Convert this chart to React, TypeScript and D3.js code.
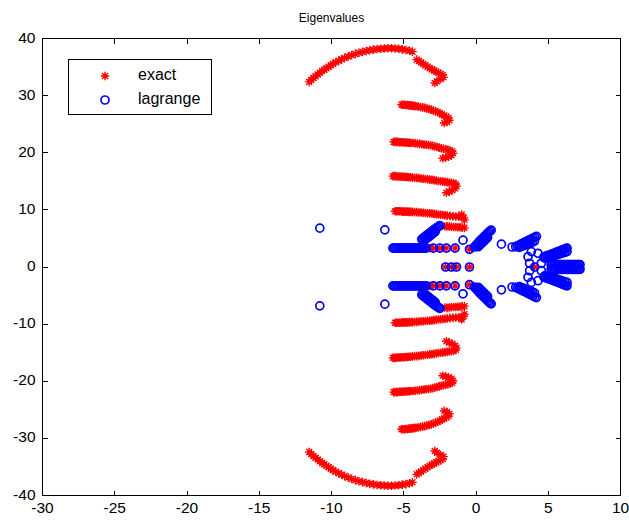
import React from 'react';
import * as d3 from 'd3';

type Pt = [number, number];

const xTicks = [-30, -25, -20, -15, -10, -5, 0, 5, 10];
const yTicks = [-40, -30, -20, -10, 0, 10, 20, 30, 40];
const legendLabels = ['exact', 'lagrange'];

// ---- exact eigenvalues (upper half-plane; conjugates are added when drawing)
const exactTopArc: Pt[] = [
  [-11.55, 32.4], [-11.4, 32.75], [-11.25, 33.1], [-11.1, 33.4], [-10.95, 33.7], [-10.8, 34.0],
  [-10.65, 34.3], [-10.5, 34.55], [-10.35, 34.8], [-10.2, 35.05], [-10.05, 35.3], [-9.9, 35.55],
  [-9.7, 35.85], [-9.5, 36.1], [-9.3, 36.35], [-9.1, 36.6], [-8.85, 36.85], [-8.6, 37.1],
  [-8.35, 37.3], [-8.1, 37.5], [-7.85, 37.65], [-7.6, 37.8], [-7.35, 37.95], [-7.1, 38.05],
  [-6.85, 38.15], [-6.6, 38.2], [-6.35, 38.25], [-6.1, 38.3], [-5.85, 38.3], [-5.6, 38.25],
  [-5.35, 38.2], [-5.1, 38.1], [-4.85, 38.0], [-4.6, 37.85], [-4.4, 37.7],
];
const exactTopHook: Pt[] = [
  [-4.1, 36.3], [-3.95, 36.05], [-3.8, 35.8], [-3.65, 35.55], [-3.5, 35.3], [-3.35, 35.05],
  [-3.2, 34.8], [-3.05, 34.6], [-2.9, 34.4], [-2.75, 34.2], [-2.6, 34.0], [-2.45, 33.8],
  [-2.3, 33.6], [-2.25, 33.2], [-2.45, 32.9], [-2.7, 32.5], [-2.85, 32.2],
];
const exactBranch28: Pt[] = [
  [-5.15, 28.4], [-5.05, 28.4], [-4.95, 28.4], [-4.85, 28.35], [-4.75, 28.35], [-4.65, 28.3],
  [-4.55, 28.3], [-4.45, 28.25], [-4.35, 28.2], [-4.25, 28.2], [-4.15, 28.15], [-4.0, 28.1],
  [-3.85, 28.0], [-3.7, 27.95], [-3.55, 27.85], [-3.4, 27.75], [-3.25, 27.65], [-3.1, 27.55],
  [-2.95, 27.4], [-2.8, 27.25], [-2.65, 27.1], [-2.5, 26.9], [-2.35, 26.7], [-2.2, 26.5],
  [-2.05, 26.3], [-1.9, 26.1], [-1.85, 25.7], [-2.0, 25.4], [-2.2, 25.2],
];
const exactBranch22: Pt[] = [
  [-5.7, 21.9], [-5.6, 21.9], [-5.5, 21.9], [-5.4, 21.9], [-5.3, 21.85], [-5.2, 21.85],
  [-5.1, 21.85], [-5.0, 21.8], [-4.9, 21.8], [-4.8, 21.8], [-4.7, 21.75], [-4.6, 21.75],
  [-4.5, 21.7], [-4.35, 21.7], [-4.2, 21.65], [-4.05, 21.6], [-3.9, 21.55], [-3.75, 21.5],
  [-3.6, 21.45], [-3.45, 21.4], [-3.3, 21.35], [-3.15, 21.3], [-3.0, 21.2], [-2.85, 21.1],
  [-2.7, 21.0], [-2.55, 20.9], [-2.4, 20.8], [-2.25, 20.7], [-2.1, 20.6], [-1.95, 20.5],
  [-1.8, 20.4], [-1.65, 20.25], [-1.6, 19.9], [-1.7, 19.55], [-1.9, 19.3], [-2.1, 19.15],
  [-2.3, 19.05],
];
const exactBranch16: Pt[] = [
  [-5.75, 15.9], [-5.65, 15.9], [-5.55, 15.9], [-5.45, 15.85], [-5.35, 15.85], [-5.25, 15.85],
  [-5.15, 15.8], [-5.05, 15.8], [-4.95, 15.8], [-4.85, 15.75], [-4.75, 15.75], [-4.65, 15.7],
  [-4.55, 15.7], [-4.4, 15.65], [-4.25, 15.6], [-4.1, 15.6], [-3.95, 15.55], [-3.8, 15.5],
  [-3.65, 15.45], [-3.5, 15.4], [-3.35, 15.35], [-3.2, 15.3], [-3.05, 15.25], [-2.9, 15.2],
  [-2.75, 15.15], [-2.6, 15.05], [-2.45, 15.0], [-2.3, 14.95], [-2.15, 14.9], [-2.0, 14.85],
  [-1.85, 14.8], [-1.7, 14.75], [-1.55, 14.65], [-1.4, 14.5], [-1.35, 14.15], [-1.45, 13.8],
  [-1.65, 13.45], [-1.85, 13.2], [-2.05, 13.0],
];
const exactBranch10: Pt[] = [
  [-5.6, 9.75], [-5.5, 9.75], [-5.4, 9.75], [-5.3, 9.75], [-5.2, 9.75], [-5.1, 9.7],
  [-5.0, 9.7], [-4.9, 9.7], [-4.8, 9.7], [-4.7, 9.7], [-4.6, 9.65], [-4.5, 9.65],
  [-4.4, 9.65], [-4.25, 9.6], [-4.1, 9.6], [-3.95, 9.55], [-3.8, 9.55], [-3.65, 9.5],
  [-3.5, 9.45], [-3.35, 9.4], [-3.2, 9.4], [-3.05, 9.35], [-2.9, 9.3], [-2.75, 9.25],
  [-2.6, 9.2], [-2.45, 9.15], [-2.3, 9.1], [-2.15, 9.05], [-2.0, 9.0], [-1.8, 8.95],
  [-1.6, 8.9], [-1.4, 8.85], [-1.2, 8.8], [-1.0, 8.75], [-0.85, 8.6], [-0.8, 8.25],
  [-1.0, 9.2],
];
const exactBranch7: Pt[] = [
  [-2.15, 7.1], [-2.0, 7.15], [-1.85, 7.1], [-1.7, 7.05], [-1.55, 7.0], [-1.4, 7.0],
  [-1.25, 6.95], [-1.1, 6.95], [-0.95, 6.9], [-0.8, 6.85],
];
const exactRow3: Pt[] = [
  [-3.55, 3.3], [-3.2, 3.3], [-2.95, 3.3], [-2.5, 3.3], [-2.05, 3.3], [-1.45, 3.3], [-0.45, 3.1],
];
// exact eigenvalues on the real axis
const exactReal: Pt[] = [[-2.1, 0], [-1.7, 0], [-1.35, 0], [-0.45, 0], [4.06, 0]];

// ---- lagrange eigenvalues (upper half-plane)
const lagrangeIsolated: Pt[] = [[-10.81, 6.8], [-6.31, 6.5]];
const lagrangeBand3: Pt[] = [
  [-5.75, 3.3], [-5.65, 3.3], [-5.55, 3.3], [-5.45, 3.3], [-5.35, 3.3], [-5.25, 3.3],
  [-5.15, 3.3], [-5.05, 3.3], [-4.95, 3.3], [-4.85, 3.3], [-4.75, 3.3], [-4.65, 3.3],
  [-4.55, 3.3], [-4.45, 3.3], [-4.35, 3.3], [-4.25, 3.3], [-4.15, 3.3], [-4.05, 3.3],
  [-3.95, 3.3], [-3.85, 3.3], [-3.75, 3.3], [-3.65, 3.3], [-3.55, 3.3], [-3.45, 3.3],
  [-2.95, 3.3], [-2.5, 3.3], [-2.05, 3.3], [-1.45, 3.3], [-0.45, 3.1],
];
const lagrangeBlobLeft: Pt[] = [
  [-3.75, 4.85], [-3.68, 5.0], [-3.6, 5.15], [-3.52, 5.3], [-3.45, 5.45], [-3.38, 5.6],
  [-3.3, 5.75], [-3.22, 5.9], [-3.15, 6.05], [-3.07, 6.2], [-3.0, 6.35], [-2.92, 6.5],
  [-2.85, 6.65], [-2.76, 6.8], [-2.67, 6.95], [-2.58, 7.1], [-2.5, 7.25],
  [-3.5, 4.85], [-3.42, 5.0], [-3.35, 5.15], [-3.27, 5.3], [-3.2, 5.45], [-3.12, 5.6],
  [-3.05, 5.75], [-2.97, 5.9], [-2.9, 6.05], [-2.82, 6.2],
];
const lagrangeBlobMid: Pt[] = [
  [-0.9, 4.7],
  [-0.1, 3.5], [-0.03, 3.7], [0.04, 3.9], [0.11, 4.1], [0.18, 4.3], [0.25, 4.5], [0.33, 4.7],
  [0.41, 4.9], [0.49, 5.1], [0.57, 5.3], [0.65, 5.5], [0.73, 5.7], [0.81, 5.9], [0.89, 6.1],
  [0.97, 6.3], [1.05, 6.45],
  [0.15, 3.55], [0.23, 3.75], [0.31, 3.95], [0.39, 4.15], [0.47, 4.35], [0.55, 4.55],
  [0.63, 4.75], [0.71, 4.95], [0.8, 5.15],
];
const lagrangeBlobRight: Pt[] = [
  [1.76, 4.0], [2.5, 3.5],
  [2.75, 3.55], [2.87, 3.7], [2.99, 3.85], [3.11, 4.0], [3.23, 4.15], [3.35, 4.3],
  [3.47, 4.45], [3.59, 4.6], [3.71, 4.75], [3.83, 4.9], [3.95, 5.05], [4.07, 5.2], [4.18, 5.35],
  [3.0, 3.45], [3.15, 3.6], [3.3, 3.75], [3.45, 3.9], [3.6, 4.05], [3.75, 4.2], [3.9, 4.35],
  [4.05, 4.55],
];
const lagrangeRing: Pt[] = [
  [3.6, 1.8], [3.83, 2.7], [4.29, 2.4], [4.75, 1.55], [3.71, 0.65], [4.52, 0.65],
];
const lagrangeArmUpper: Pt[] = [
  [4.7, 1.75], [4.8, 1.85], [4.9, 1.95], [5.0, 2.03], [5.1, 2.1], [5.2, 2.2], [5.3, 2.3],
  [5.4, 2.4], [5.5, 2.5], [5.6, 2.6], [5.7, 2.7], [5.8, 2.8], [5.9, 2.9], [6.0, 3.0],
  [6.1, 3.1], [6.2, 3.2], [6.3, 3.3],
  [4.95, 1.6], [5.1, 1.7], [5.25, 1.82], [5.4, 1.95], [5.55, 2.07], [5.7, 2.2],
  [5.85, 2.33], [6.0, 2.45], [6.15, 2.58], [6.3, 2.7],
];
const lagrangeArmMiddle: Pt[] = [
  [5.2, 0.4], [5.3, 0.4], [5.4, 0.4], [5.5, 0.4], [5.6, 0.4], [5.7, 0.4], [5.8, 0.4],
  [5.9, 0.4], [6.0, 0.4], [6.1, 0.4], [6.2, 0.4], [6.3, 0.4], [6.4, 0.4], [6.5, 0.4],
  [6.6, 0.4], [6.7, 0.4], [6.8, 0.4], [6.9, 0.4], [7.0, 0.4], [7.1, 0.4], [7.2, 0.4],
];
const lagrangeReal: Pt[] = [[-2.1, 0], [-1.7, 0], [-1.35, 0], [-0.45, 0], [4.06, 0]];

// complex eigenvalues of a real operator come in conjugate pairs
const withConjugates = (pts: Pt[]): Pt[] => pts.flatMap(([re, im]) => [[re, im], [re, -im]] as Pt[]);

const exactPoints: Pt[] = [
  ...withConjugates([
    ...exactTopArc, ...exactTopHook, ...exactBranch28, ...exactBranch22,
    ...exactBranch16, ...exactBranch10, ...exactBranch7, ...exactRow3,
  ]),
  ...exactReal,
];
const lagrangePoints: Pt[] = [
  ...withConjugates([
    ...lagrangeIsolated, ...lagrangeBand3, ...lagrangeBlobLeft, ...lagrangeBlobMid,
    ...lagrangeBlobRight, ...lagrangeRing, ...lagrangeArmUpper, ...lagrangeArmMiddle,
  ]),
  ...lagrangeReal,
];

const STAR = 'M-4.3,0H4.3M0,-4.3V4.3M-3,-3L3,3M-3,3L3,-3';
const RED = '#ff0000';
const BLUE = '#0000ff';
const FONT = "'Liberation Sans', Arial, Helvetica, sans-serif";

export default function App() {
  const W = 629;
  const H = 520;
  const x = d3.scaleLinear().domain([-30, 10]).range([42.5, 620.5]);
  const y = d3.scaleLinear().domain([-40, 40]).range([495.5, 38.5]);
  const [x0, x1] = x.range();
  const [y0, y1] = y.range();
  const tickLen = 5;

  return (
    <svg
      width={W}
      height={H}
      style={{ position: 'absolute', left: 0, top: 0, background: '#fff' }}
      fontFamily={FONT}
    >
      <rect width={W} height={H} fill="#fff" />
      <text x={(x0 + x1) / 2} y={19} textAnchor="middle" dominantBaseline="middle" fontSize={12}>
        Eigenvalues
      </text>

      {/* exact: red stars */}
      <g stroke={RED} strokeWidth={1.4} fill="none">
        {exactPoints.map(([re, im], i) => (
          <path key={i} d={STAR} transform={`translate(${x(re)},${y(im)})`} />
        ))}
      </g>
      {/* lagrange: blue circles */}
      <g stroke={BLUE} strokeWidth={1.7} fill="none">
        {lagrangePoints.map(([re, im], i) => (
          <circle key={i} cx={x(re)} cy={y(im)} r={4} />
        ))}
      </g>

      {/* axes box and inward ticks */}
      <g stroke="#000" strokeWidth={1} fill="none" shapeRendering="crispEdges">
        <rect x={x0} y={y1} width={x1 - x0} height={y0 - y1} />
        {xTicks.map((t) => (
          <g key={`xt${t}`}>
            <line x1={x(t)} x2={x(t)} y1={y0} y2={y0 - tickLen} />
            <line x1={x(t)} x2={x(t)} y1={y1} y2={y1 + tickLen} />
          </g>
        ))}
        {yTicks.map((t) => (
          <g key={`yt${t}`}>
            <line x1={x0} x2={x0 + tickLen} y1={y(t)} y2={y(t)} />
            <line x1={x1} x2={x1 - tickLen} y1={y(t)} y2={y(t)} />
          </g>
        ))}
      </g>
      <g fontSize={15.5} fill="#000">
        {xTicks.map((t) => (
          <text key={`xl${t}`} x={x(t)} y={y0 + 13} textAnchor="middle" dominantBaseline="middle">
            {t}
          </text>
        ))}
        {yTicks.map((t) => (
          <text key={`yl${t}`} x={x0 - 7} y={y(t)} textAnchor="end" dominantBaseline="middle">
            {t}
          </text>
        ))}
      </g>

      {/* legend */}
      <g>
        <rect x={68.5} y={59.5} width={143} height={55} fill="#fff" stroke="#000" strokeWidth={1} />
        <path d={STAR} transform="translate(105,76)" stroke={RED} strokeWidth={1.4} fill="none" />
        <circle cx={105} cy={100} r={4} stroke={BLUE} strokeWidth={1.7} fill="none" />
        {legendLabels.map((label, i) => (
          <text key={label} x={138} y={76 + i * 24} fontSize={16} dominantBaseline="middle">
            {label}
          </text>
        ))}
      </g>
    </svg>
  );
}
